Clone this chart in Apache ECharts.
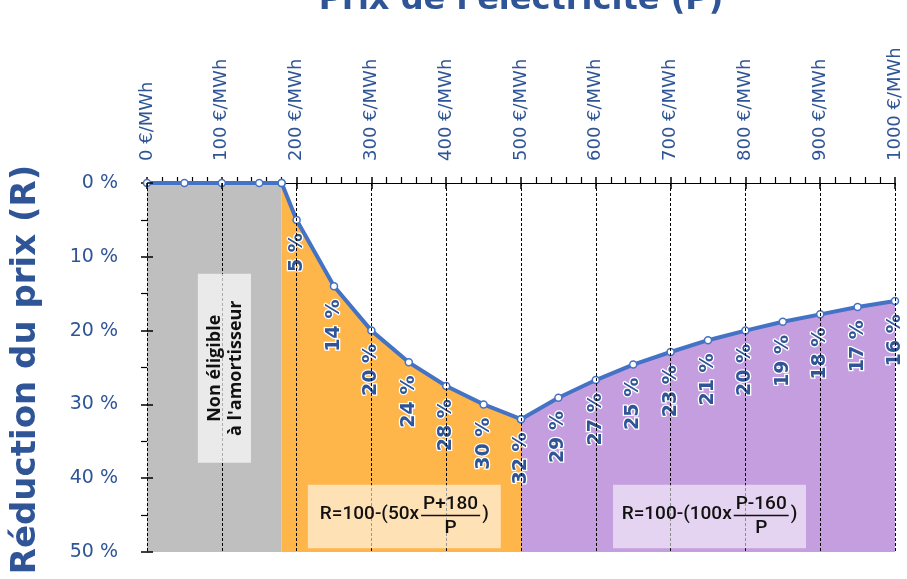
<!DOCTYPE html>
<html>
<head>
<meta charset="utf-8">
<script src="https://cdn.jsdelivr.net/npm/echarts@6/dist/echarts.min.js"></script>
<style>
html,body{margin:0;padding:0;background:#fff;}
#chart{width:907px;height:579px;}
</style>
</head>
<body>
<div id="chart"></div>
<script>
// ---- data ----
const priceGray = [0, 50, 100, 150, 180];
const reducGray = [0, 0, 0, 0, 0];
const priceOrange = [180, 200, 250, 300, 350, 400, 450, 500];
const reducOrange = [0, 5, 14, 20, 24.3, 27.5, 30, 32];
const pricePurple = [500, 550, 600, 650, 700, 750, 800, 850, 900, 950, 1000];
const reducPurple = [32, 29.1, 26.7, 24.6, 22.9, 21.3, 20, 18.8, 17.8, 16.8, 16];
const xTitle = "Prix de l'électricité (P)";
const yTitle = "Réduction du prix (R)";
const xUnit = " €/MWh";
const yUnit = " %";
const noteLines = ["Non éligible", "à l'amortisseur"];
const noteBox = [68, 12.3, 139, 37.9];            // P1, R1, P2, R2
const formulaBoxes = [[215, 40.9, 473, 49.5], [623, 40.9, 881, 49.5]];
const formulaParts = [["R=100-(50x", "P+180", "P", ")"], ["R=100-(100x", "P-160", "P", ")"]];

const BLUE = '#4472C4';
const TXT = '#2F5597';
const FONT = 'DejaVu Sans';

function pairs(xs, ys) { return xs.map((x, i) => [x, ys[i]]); }

const chart = echarts.init(document.getElementById('chart'), null, {renderer: 'canvas'});

function lineSeries(xs, ys, color, labelFrom) {
  return {
    type: 'line',
    xAxisIndex: 0, yAxisIndex: 0,
    data: pairs(xs, ys),
    showAllSymbol: true,
    symbol: 'circle',
    symbolSize: 7,
    itemStyle: {color: '#fff', borderColor: BLUE, borderWidth: 1.5},
    lineStyle: {color: BLUE, width: 4},
    areaStyle: {color: color, opacity: 1, origin: 'end'},
    label: {
      show: labelFrom >= 0,
      position: 'bottom',
      rotate: 90,
      align: 'right',
      verticalAlign: 'middle',
      distance: 9,
      formatter: p => (p.dataIndex >= labelFrom ? Math.round(p.value[1]) + yUnit : ''),
      color: TXT,
      fontFamily: FONT,
      fontWeight: 'bold',
      fontSize: 19,
      textBorderColor: '#fff',
      textBorderWidth: 2.5
    },
    emphasis: {disabled: true},
    z: 2
  };
}

const option = {
  animation: false,
  grid: {left: 147, right: 12, top: 183, bottom: 27, containLabel: false, outerBoundsMode: 'none'},
  xAxis: [{
    type: 'value', position: 'top', min: 0, max: 1000, interval: 100,
    axisLine: {show: true, lineStyle: {color: '#000', width: 1}},
    axisTick: {show: true, length: 6, lineStyle: {color: '#000', width: 1.5}},
    minorTick: {show: true, splitNumber: 5, length: 6, lineStyle: {color: '#000', width: 1.2}},
    axisLabel: {rotate: 90, margin: 22, formatter: v => v + xUnit, color: TXT, fontFamily: FONT, fontSize: 18},
    splitLine: {show: false}
  }, {
    type: 'value', position: 'top', min: 0, max: 1000, interval: 100, z: 5,
    axisLine: {show: false},
    axisTick: {show: true, inside: true, length: 6, lineStyle: {color: '#000', width: 1.5}},
    axisLabel: {show: false},
    splitLine: {show: true, lineStyle: {color: '#000', width: 1, type: [3, 2]}}
  }],
  yAxis: [{
    type: 'value', inverse: true, min: 0, max: 50, interval: 10,
    axisLine: {show: true, lineStyle: {color: '#000', width: 1}},
    axisTick: {show: true, length: 6, lineStyle: {color: '#000', width: 1.5}},
    minorTick: {show: true, splitNumber: 2, length: 6, lineStyle: {color: '#000', width: 1.2}},
    axisLabel: {margin: 29, formatter: v => v + yUnit, color: TXT, fontFamily: FONT, fontSize: 19},
    splitLine: {show: false}
  }, {
    type: 'value', inverse: true, min: 0, max: 50, interval: 10, position: 'left', z: 5,
    axisLine: {show: false},
    axisTick: {show: true, inside: true, length: 6, lineStyle: {color: '#000', width: 1.5}},
    axisLabel: {show: false},
    splitLine: {show: false}
  }],
  series: [
    lineSeries(priceGray, reducGray, '#BFBFBF', -1),
    lineSeries(priceOrange, reducOrange, '#FEB54A', 1),
    lineSeries(pricePurple, reducPurple, '#C49EDF', 1)
  ]
};
chart.setOption(option);

// ---- annotations placed from data coordinates ----
const ctx = document.createElement('canvas').getContext('2d');
function textW(txt, font) { ctx.font = font; return ctx.measureText(txt).width; }
function px(p, r) { return chart.convertToPixel({xAxisIndex: 0, yAxisIndex: 0}, [p, r]); }

const graphics = [];
// axis titles (centered on the plot area)
const pTopMid = px(500, 0), pLeftMid = px(0, 25);
graphics.push({type: 'text', z: 11, x: pTopMid[0], y: 1,
  style: {text: xTitle, x: 0, y: 0, align: 'center', verticalAlign: 'middle', fill: TXT, font: 'bold 32px "DejaVu Sans"'}});
graphics.push({type: 'text', z: 11, x: 26, y: pLeftMid[1] + 2, rotation: Math.PI / 2,
  style: {text: yTitle, x: 0, y: 0, align: 'center', verticalAlign: 'middle', fill: TXT, font: 'bold 34px "DejaVu Sans"'}});

function boxRect(b, fill) {
  const a = px(b[0], b[1]), c = px(b[2], b[3]);
  graphics.push({type: 'rect', z: 10, shape: {x: a[0], y: a[1], width: c[0] - a[0], height: c[1] - a[1]}, style: {fill: fill}});
  return [(a[0] + c[0]) / 2, (a[1] + c[1]) / 2];
}

const nc = boxRect(noteBox, 'rgba(255,255,255,0.68)');
graphics.push({
  type: 'text', z: 11, x: nc[0] + 1, y: nc[1], rotation: Math.PI / 2,
  style: {text: noteLines.join('\n'), x: 0, y: 0, align: 'center', verticalAlign: 'middle',
    fill: '#111', font: 'bold 18px "Open Sans"', lineHeight: 21}
});

const FF = '500 19px Roboto';
const fills = ['rgba(255,255,255,0.6)', 'rgba(255,255,255,0.55)'];
formulaBoxes.forEach((b, i) => {
  const c = boxRect(b, fills[i]);
  const parts = formulaParts[i];
  const w0 = textW(parts[0], FF), w1 = Math.max(textW(parts[1], FF), textW(parts[2], FF)) + 4, w3 = textW(parts[3], FF);
  const total = w0 + 2 + w1 + 2 + w3;
  let x = c[0] - total / 2;
  const y = c[1] - 2;
  graphics.push({type: 'text', z: 11, style: {text: parts[0], x: x, y: y, align: 'left', verticalAlign: 'middle', fill: '#111', font: FF}});
  x += w0 + 2;
  graphics.push({type: 'line', z: 11, shape: {x1: x, y1: y + 1, x2: x + w1, y2: y + 1}, style: {stroke: '#111', lineWidth: 1.5}});
  graphics.push({type: 'text', z: 11, style: {text: parts[1], x: x + w1 / 2, y: y - 10, align: 'center', verticalAlign: 'middle', fill: '#111', font: FF}});
  graphics.push({type: 'text', z: 11, style: {text: parts[2], x: x + w1 / 2, y: y + 14, align: 'center', verticalAlign: 'middle', fill: '#111', font: FF}});
  x += w1 + 2;
  graphics.push({type: 'text', z: 11, style: {text: parts[3], x: x, y: y, align: 'left', verticalAlign: 'middle', fill: '#111', font: FF}});
});
chart.setOption({graphic: graphics});
</script>
</body>
</html>
